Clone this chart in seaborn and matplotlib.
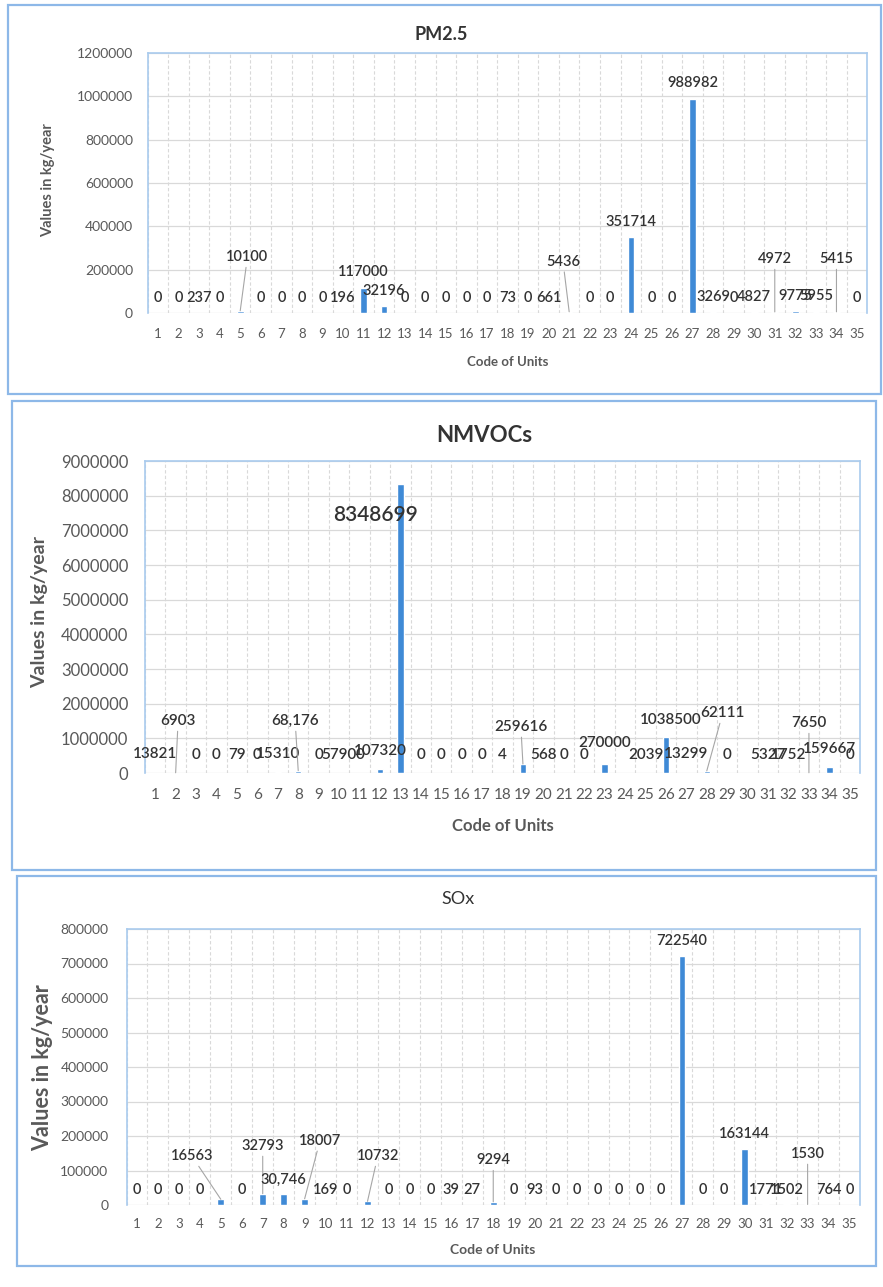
import numpy as np
import pandas as pd
import matplotlib
matplotlib.use("Agg")
import matplotlib.pyplot as plt
from matplotlib.patches import Rectangle
import seaborn as sns

# ---------------------------------------------------------------- data
UNITS = list(range(1, 36))

PM25 = [0, 0, 237, 0, 10100, 0, 0, 0, 0, 196,
        117000, 32196, 0, 0, 0, 0, 0, 73, 0, 661,
        5436, 0, 0, 351714, 0, 0, 988982, 3269, 0, 4827,
        4972, 9775, 5955, 5415, 0]

NMVOCS = [13821, 6903, 0, 0, 79, 0, 15310, 68176, 0, 5790,
          0, 107320, 8348699, 0, 0, 0, 0, 4, 259616, 568,
          0, 0, 270000, np.nan, 2039, 1038500, 13299, 62111, 0, np.nan,
          5327, 1752, 7650, 159667, 0]

SOX = [0, 0, 0, 0, 16563, 0, 32793, 30746, 18007, 169,
       0, 10732, 0, 0, 0, 39, 27, 9294, 0, 93,
       0, 0, 0, 0, 0, 0, 722540, 0, 0, 163144,
       1771, 1502, 1530, 764, 0]

PM25_YTICKS = [0, 200000, 400000, 600000, 800000, 1000000, 1200000]
NMVOCS_YTICKS = [0, 1000000, 2000000, 3000000, 4000000, 5000000,
                 6000000, 7000000, 8000000, 9000000]
SOX_YTICKS = [0, 100000, 200000, 300000, 400000, 500000, 600000,
              700000, 800000]

Y_TITLE = "Values in kg/year"
X_TITLE = "Code of Units"

# units whose value label is printed with a thousands separator
COMMA_UNITS = {"NMVOCs": {8}, "SOx": {8}}

# ---------------------------------------------------------------- style
W, H = 883, 1287
BAR = "#3F8AD6"
GRID = "#D9D9D9"
FRAME = "#8DB8E8"
SPINE = "#A9CBEE"
TICK_C = "#595959"
LABEL_C = "#333333"
LEADER = "#A6A6A6"

sns.set_theme(style="white")
plt.rcParams["font.family"] = ["Lato", "DejaVu Sans"]

fig = plt.figure(figsize=(W / 100, H / 100), dpi=100)


def px_rect(left, top, right, bottom):
    return [left / W, 1 - bottom / H, (right - left) / W, (bottom - top) / H]


def fig_text(x, y, s, **kw):
    fig.text(x / W, 1 - y / H, s, ha="center", va="center", **kw)


# label placement for callout labels: unit -> (x shift in categories,
# label height in data units, draw leader line)
PANELS = [
    dict(name="PM2.5", values=PM25, yticks=PM25_YTICKS,
         frame=(8, 5, 881, 394), axes=(147.7, 53, 867.3, 313),
         title=dict(xy=(441, 35), size=13, weight="bold"),
         ylab=dict(xy=(48, 180), size=10.5),
         xlab=dict(xy=(508, 362), size=9.5),
         tick_size=10, ytick_pad=10.5, xtick_pad=10.5,
         lab_size=10.5, lab_off=11,
         callouts={5: (0.35, 258000, True), 21: (-0.3, 237000, True),
                   31: (0, 249000, True), 34: (0, 249000, True)},
         big={}),
    dict(name="NMVOCs", values=NMVOCS, yticks=NMVOCS_YTICKS,
         frame=(12, 401, 876, 870), axes=(145, 461, 860, 773),
         title=dict(xy=(484, 435), size=16, weight="bold"),
         ylab=dict(xy=(40, 612), size=14),
         xlab=dict(xy=(503, 826), size=12),
         tick_size=12, ytick_pad=12, xtick_pad=10.5,
         lab_size=11, lab_off=13,
         callouts={2: (0.12, 1500000, True), 8: (-0.15, 1500000, True),
                   13: (-1.23, 7440000, False), 19: (-0.1, 1330000, True),
                   23: (0, 870000, False),
                   26: (0.25, 1530000, False), 28: (0.78, 1730000, True),
                   33: (0, 1440000, True)},
         big={13: 15}),
    dict(name="SOx", values=SOX, yticks=SOX_YTICKS,
         frame=(17, 876, 876, 1266), axes=(126.5, 929, 860, 1205),
         title=dict(xy=(458, 899), size=13, weight="normal"),
         ylab=dict(xy=(43, 1068), size=15.5),
         xlab=dict(xy=(493, 1250), size=10),
         tick_size=10, ytick_pad=13, xtick_pad=9.5,
         lab_size=10.5, lab_off=10.5,
         callouts={5: (-1.38, 142000, True), 7: (0, 171000, True),
                   9: (0.73, 186000, True), 12: (0.49, 142000, True),
                   18: (0, 130000, True), 33: (0, 148000, True)},
         big={}),
]


def draw_panel(p):
    fl, ft, fr, fb = p["frame"]
    fig.patches.append(Rectangle((fl / W, 1 - fb / H), (fr - fl) / W,
                                 (fb - ft) / H, transform=fig.transFigure,
                                 fill=False, edgecolor=FRAME, lw=1.6))

    ax = fig.add_axes(px_rect(*p["axes"]))
    df = pd.DataFrame({"unit": [str(u) for u in UNITS],
                       "value": p["values"]})
    sns.barplot(data=df, x="unit", y="value", order=df["unit"],
                color=BAR, saturation=1, width=0.32, errorbar=None, ax=ax)

    ax.set_xlim(-0.5, len(UNITS) - 0.5)
    ax.set_ylim(0, p["yticks"][-1])
    ax.set_yticks(p["yticks"])
    ax.set_yticklabels([str(t) for t in p["yticks"]])
    ax.set_xticks(np.arange(-0.5, len(UNITS), 1), minor=True)
    ax.grid(False)
    ax.grid(which="major", axis="y", color=GRID, lw=0.9)
    ax.grid(which="minor", axis="x", color=GRID, lw=0.8, ls=(0, (3, 2)))
    ax.set_axisbelow(True)
    ax.tick_params(which="both", length=0)
    ax.tick_params(axis="y", labelsize=p["tick_size"], labelcolor=TICK_C,
                   pad=p["ytick_pad"])
    ax.tick_params(axis="x", labelsize=min(p["tick_size"] - 0.5, 11),
                   labelcolor=TICK_C, pad=p["xtick_pad"])
    ax.set_xlabel("")
    ax.set_ylabel("")
    for side in ("left", "top", "right"):
        ax.spines[side].set_color(SPINE)
        ax.spines[side].set_linewidth(1.2)
    ax.spines["bottom"].set_visible(False)

    commas = COMMA_UNITS.get(p["name"], set())
    for i, (u, v) in enumerate(zip(UNITS, p["values"])):
        if v is None or (isinstance(v, float) and np.isnan(v)):
            continue
        v = int(v)
        txt = f"{v:,}" if u in commas else f"{v}"
        size = p["big"].get(u, p["lab_size"])
        style = dict(ha="center", va="center", fontsize=size,
                     color=LABEL_C, fontweight="semibold",
                     annotation_clip=False)
        if u in p["callouts"]:
            dx, ly, line = p["callouts"][u]
            arrow = (dict(arrowstyle="-", color=LEADER, lw=0.8,
                          shrinkA=0, shrinkB=0) if line else None)
            ax.annotate(txt, xy=(i, v), xytext=(i + dx, ly),
                        textcoords="data", arrowprops=arrow, **style)
        else:
            ax.annotate(txt, xy=(i, v), xytext=(0, p["lab_off"]),
                        textcoords="offset points", **style)

    t = p["title"]
    fig_text(*t["xy"], p["name"], fontsize=t["size"],
             fontweight=t["weight"], color=LABEL_C)
    fig_text(*p["ylab"]["xy"], Y_TITLE, fontsize=p["ylab"]["size"],
             fontweight="bold", color=TICK_C, rotation=90)
    fig_text(*p["xlab"]["xy"], X_TITLE, fontsize=p["xlab"]["size"],
             fontweight="bold", color=TICK_C)


for panel in PANELS:
    draw_panel(panel)

fig.savefig("out.png", dpi=100, facecolor="white")
